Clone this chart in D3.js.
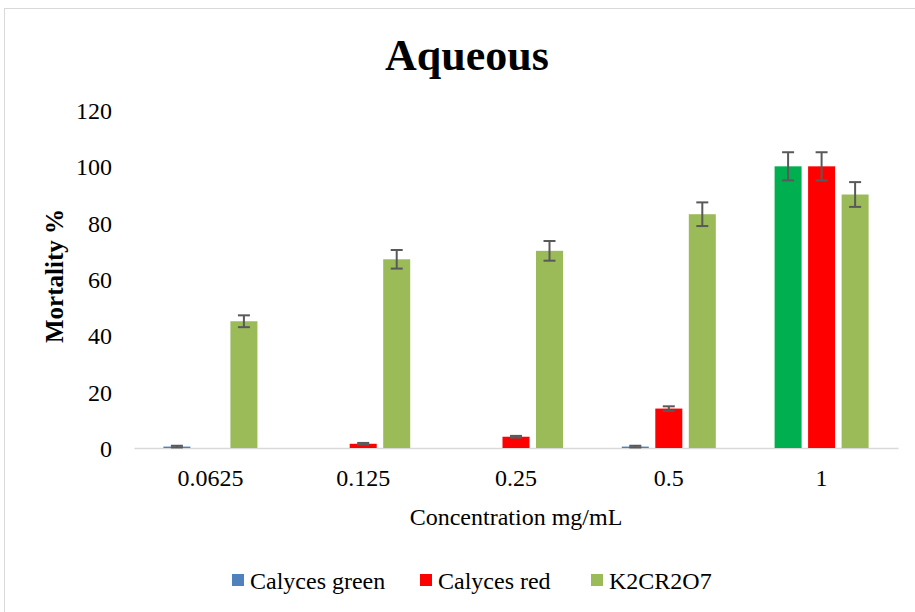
<!DOCTYPE html>
<html><head><meta charset="utf-8">
<script src="https://cdn.jsdelivr.net/npm/d3@7"></script>
<style>body{margin:0;background:#fff}svg{display:block}text{font-family:"Liberation Serif","Times New Roman",serif;fill:#000}</style>
</head><body>
<svg id="c" width="915" height="612"></svg>
<script>
const categories = ["0.0625", "0.125", "0.25", "0.5", "1"];
const seriesNames = ["Calyces green", "Calyces red", "K2CR2O7"];
const greenValues = [0.5, 0, 0, 0.5, 100];
const greenErrors = [0.3, 0, 0, 0.3, 5];
const redValues = [0, 1.5, 4, 14, 100];
const redErrors = [0, 0.3, 0.3, 0.8, 5];
const k2Values = [45, 67, 70, 83, 90];
const k2Errors = [2.1, 3.3, 3.5, 4.2, 4.4];
const yTicks = [0, 20, 40, 60, 80, 100, 120];
const seriesColors = ["#4F81BD", "#FF0000", "#9BBB59"];
const pointColorOverride = {series: 0, index: 4, color: "#00B050"};

const svg = d3.select("#c");
svg.append("rect").attr("x", 4.5).attr("y", 8.5).attr("width", 920).attr("height", 620)
  .attr("fill", "#fff").attr("stroke", "#D9D9D9");

const m = {left: 134, right: 898, top: 110, bottom: 448};
const x = d3.scaleBand().domain(categories).range([m.left, m.right]).paddingInner(0).paddingOuter(0);
const x1 = d3.scaleBand().domain([0,1,2]).range([0, x.bandwidth()]).paddingInner(0.194).paddingOuter(0.877);
const y = d3.scaleLinear().domain([0, 120]).range([m.bottom, m.top]);

const all = [
  {vals: greenValues, errs: greenErrors},
  {vals: redValues, errs: redErrors},
  {vals: k2Values, errs: k2Errors}
];

const FS = 24;
// y axis labels
const yAxis = d3.axisLeft(y).tickValues(yTicks).tickSize(0).tickPadding(0);
const ga = svg.append("g").attr("transform", `translate(${m.left - 22},0)`).call(yAxis);
ga.select(".domain").remove();
ga.selectAll("text").attr("font-size", FS).attr("font-family", "Liberation Serif").attr("fill", "#000").attr("dy", "0.35em");

// x axis
const xAxis = d3.axisBottom(x).tickSize(0).tickPadding(0);
const gx = svg.append("g").attr("transform", `translate(0,${m.bottom})`).call(xAxis);
gx.select(".domain").attr("stroke", "#D9D9D9").attr("stroke-width", 1.5);
gx.selectAll("text").attr("font-size", FS).attr("font-family", "Liberation Serif").attr("fill", "#000").attr("dy", "0").attr("y", 38);

// bars
all.forEach((s, si) => {
  const g = svg.append("g");
  categories.forEach((c, i) => {
    const v = s.vals[i];
    if (v <= 0) return;
    const bx = x(c) + x1(si);
    let col = seriesColors[si];
    if (pointColorOverride.series === si && pointColorOverride.index === i) col = pointColorOverride.color;
    g.append("rect").attr("x", bx).attr("width", x1.bandwidth())
      .attr("y", y(v)).attr("height", y(0) - y(v)).attr("fill", col);
  });
});
// error bars
all.forEach((s, si) => {
  const g = svg.append("g").attr("stroke", "#595959").attr("stroke-width", 2);
  categories.forEach((c, i) => {
    const v = s.vals[i], e = s.errs[i];
    if (v <= 0) return;
    const cx = x(c) + x1(si) + x1.bandwidth() / 2;
    const y0 = y(Math.max(0, v - e)), y1v = y(v + e);
    g.append("line").attr("x1", cx).attr("x2", cx).attr("y1", y0).attr("y2", y1v);
    g.append("line").attr("x1", cx - 6).attr("x2", cx + 6).attr("y1", y0).attr("y2", y0);
    g.append("line").attr("x1", cx - 6).attr("x2", cx + 6).attr("y1", y1v).attr("y2", y1v);
  });
});

// titles
svg.append("text").attr("x", 467).attr("y", 70).attr("text-anchor", "middle")
  .attr("font-size", 44).attr("font-weight", "bold").text("Aqueous");
svg.append("text").attr("x", (m.left + m.right) / 2).attr("y", 525).attr("text-anchor", "middle")
  .attr("font-size", FS).text("Concentration mg/mL");
svg.append("text").attr("transform", `translate(63,276) rotate(-90)`).attr("text-anchor", "middle")
  .attr("font-size", 25).attr("font-weight", "bold").text("Mortality %");

// legend
const legX = [232, 420, 591];
seriesNames.forEach((n, i) => {
  svg.append("rect").attr("x", legX[i]).attr("y", 574).attr("width", 12).attr("height", 12).attr("fill", seriesColors[i]);
  svg.append("text").attr("x", legX[i] + 18).attr("y", 589).attr("font-size", FS).text(n);
});
</script>
</body></html>
